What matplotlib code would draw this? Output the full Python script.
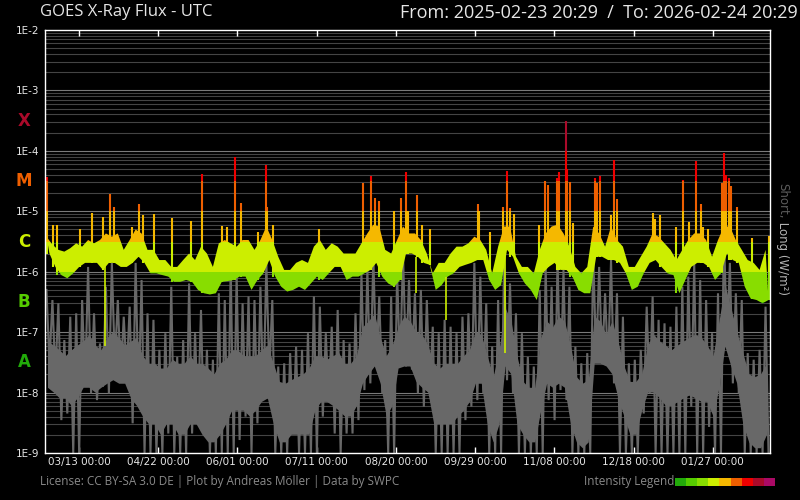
import matplotlib
matplotlib.use("Agg")
import matplotlib.pyplot as plt
import matplotlib.dates as mdates
import matplotlib.transforms as mtransforms
from matplotlib.patches import Rectangle
from matplotlib.ticker import NullLocator
import numpy as np
import pandas as pd

start = pd.Timestamp("2025-02-23 20:29")
end = pd.Timestamp("2026-02-24 20:29")

# long channel (1-8 A), envelope per 3-day bin, W/m2
long_hi = [
    3.8e-6, 2.8e-6, 2.3e-6, 2.15e-6, 2.45e-6, 2.95e-6, 2.6e-6, 3.35e-6, 2.95e-6, 3.35e-6,
    4.3e-6, 3.8e-6, 4.3e-6, 2.3e-6, 3.35e-6, 5.0e-6, 4.3e-6, 2.3e-6, 2.3e-6, 1.56e-6,
    1.56e-6, 1.2e-6, 1.2e-6, 1.56e-6, 2.0e-6, 1.56e-6, 2.6e-6, 2.0e-6, 1.2e-6, 2.95e-6,
    3.35e-6, 2.95e-6, 2.6e-6, 3.35e-6, 3.35e-6, 2.3e-6, 3.35e-6, 5.6e-6, 3.35e-6, 1.77e-6,
    1.07e-6, 1.07e-6, 1.4e-6, 1.56e-6, 1.4e-6, 2.6e-6, 3.35e-6, 2.3e-6, 2.95e-6, 2.6e-6,
    2.0e-6, 2.0e-6, 2.0e-6, 2.95e-6, 4.3e-6, 6.0e-6, 5.6e-6, 2.3e-6, 2.0e-6, 3.35e-6,
    5.6e-6, 4.3e-6, 4.3e-6, 3.35e-6, 2.0e-6, 9.4e-7, 1.4e-6, 1.4e-6, 2.0e-6, 2.6e-6,
    2.6e-6, 2.95e-6, 3.8e-6, 3.35e-6, 2.3e-6, 9.4e-7, 2.6e-6, 5.6e-6, 5.6e-6, 1.77e-6,
    1.2e-6, 1.2e-6, 9.4e-7, 2.3e-6, 4.3e-6, 5.6e-6, 6.0e-6, 4.3e-6, 2.6e-6, 1.2e-6,
    9.4e-7, 1.2e-6, 5.6e-6, 4.3e-6, 2.6e-6, 5.6e-6, 3.35e-6, 2.6e-6, 1.2e-6, 1.2e-6,
    1.77e-6, 2.6e-6, 4.3e-6, 3.8e-6, 2.95e-6, 2.3e-6, 1.56e-6, 2.3e-6, 3.35e-6, 4.3e-6,
    4.3e-6, 3.35e-6, 1.77e-6, 3.35e-6, 5.6e-6, 5.6e-6, 3.35e-6, 2.3e-6, 1.56e-6, 1.4e-6,
    1.07e-6, 2.3e-6]
long_lo = [
    2.0e-6, 1.2e-6, 8.8e-7, 7.8e-7, 9.4e-7, 1.2e-6, 1.4e-6, 1.4e-6, 1.4e-6, 1.07e-6,
    1.4e-6, 1.4e-6, 1.2e-6, 1.2e-6, 1.4e-6, 1.77e-6, 1.4e-6, 9.4e-7, 9.4e-7, 8.8e-7,
    8.3e-7, 6.8e-7, 6.8e-7, 7.3e-7, 6.8e-7, 5.0e-7, 4.4e-7, 4.2e-7, 4.4e-7, 6.8e-7,
    7.0e-7, 7.3e-7, 8.3e-7, 8.3e-7, 5.0e-7, 7.3e-7, 9.4e-7, 1.56e-6, 8.3e-7, 5.65e-7,
    4.7e-7, 5.0e-7, 5.65e-7, 5.0e-7, 6.4e-7, 8.3e-7, 7.3e-7, 9.4e-7, 1.2e-6, 1.2e-6,
    7.3e-7, 8.3e-7, 8.3e-7, 9.4e-7, 1.07e-6, 1.4e-6, 8.3e-7, 6.4e-7, 5.65e-7, 7.3e-7,
    2.0e-6, 2.0e-6, 1.77e-6, 1.4e-6, 1.3e-6, 5.0e-7, 6.0e-7, 8.3e-7, 9.4e-7, 1.2e-6,
    1.3e-6, 1.4e-6, 1.56e-6, 1.56e-6, 7.3e-7, 5.0e-7, 6.0e-7, 2.3e-6, 1.77e-6, 9.4e-7,
    6.4e-7, 5.0e-7, 3.4e-7, 9.4e-7, 1.2e-6, 1.4e-6, 1.07e-6, 1.07e-6, 8.3e-7, 5.0e-7,
    4.4e-7, 4.4e-7, 1.77e-6, 1.77e-6, 1.56e-6, 1.56e-6, 1.4e-6, 9.4e-7, 5.0e-7, 5.65e-7,
    9.4e-7, 1.4e-6, 1.56e-6, 1.2e-6, 9.4e-7, 8.8e-7, 4.4e-7, 7.3e-7, 1.2e-6, 1.4e-6,
    1.4e-6, 1.2e-6, 7.3e-7, 9.4e-7, 2.0e-6, 1.56e-6, 1.4e-6, 5.65e-7, 3.6e-7, 3.4e-7,
    3.0e-7, 3.4e-7]

# short channel (0.5-4 A): spike extremes per 3-day bin
short_hi = [
    5.0e-7, 3.4e-7, 3.0e-7, 7.4e-8, 1.8e-7, 2.05e-7, 3.4e-7, 1.2e-6, 2.05e-7, 6.5e-8,
    5.65e-7, 1.4e-6, 3.4e-7, 1.8e-7, 2.64e-7, 1.4e-6, 7.3e-7, 2.05e-7, 1.6e-7, 5.1e-8,
    9.6e-8, 5.65e-7, 3.9e-8, 7.4e-8, 6.4e-7, 9.6e-8, 2.33e-7, 5.1e-8, 3.5e-8, 4.4e-7,
    3.4e-7, 1.2e-6, 9.4e-7, 3.0e-7, 3.9e-7, 3.4e-7, 5.65e-7, 1.4e-6, 3.4e-7, 2.7e-8,
    3.05e-8, 4.5e-8, 5.75e-8, 5.1e-8, 9.6e-8, 3.9e-7, 2.64e-7, 9.6e-8, 1.23e-7, 2.33e-7,
    7.4e-8, 6.5e-8, 2.05e-7, 9.4e-7, 1.07e-6, 1.77e-6, 3.9e-7, 7.4e-8, 3.9e-7, 9.4e-7,
    2.0e-6, 7.3e-7, 4.4e-7, 5.0e-7, 3.4e-7, 1.23e-7, 9.6e-8, 1.6e-7, 1.23e-7, 9.6e-8,
    1.8e-7, 2.05e-7, 1.4e-6, 8.3e-7, 3.0e-7, 5.75e-8, 3.4e-7, 1.56e-6, 6.4e-7, 2.05e-7,
    9.6e-8, 3.9e-8, 2.7e-8, 5.0e-7, 1.2e-6, 5.65e-7, 1.56e-6, 1.07e-6, 5.65e-7, 5.75e-8,
    3.05e-8, 4.5e-8, 2.0e-6, 1.2e-6, 4.4e-7, 1.56e-6, 4.4e-7, 1.8e-7, 3.05e-8, 3.5e-8,
    5.1e-8, 2.64e-7, 3.9e-7, 1.6e-7, 1.4e-7, 1.23e-7, 2.64e-7, 5.65e-7, 8.3e-7, 1.4e-6,
    7.3e-7, 3.4e-7, 9.6e-8, 4.4e-7, 4.9e-6, 1.4e-6, 4.4e-7, 3.4e-7, 4.5e-8, 3.5e-8,
    5.1e-8, 2.64e-7]
short_lo = [
    3.05e-8, 1.83e-8, 3.5e-9, 4.5e-9, 1e-9, 1e-9, 1.25e-8, 9.7e-9, 7.5e-9, 1.25e-8,
    9.7e-9, 3.05e-8, 1.83e-8, 2.1e-8, 3.1e-9, 7.5e-9, 1e-9, 1e-9, 1e-9, 1e-9,
    2.1e-9, 1e-9, 1e-9, 1e-9, 2.1e-9, 4.0e-9, 2.1e-9, 1e-9, 1e-9, 1e-9,
    1e-9, 1e-9, 1.64e-9, 4.0e-9, 1e-9, 3.1e-9, 7.5e-9, 2.1e-8, 1e-9, 1e-9,
    1e-9, 2.1e-9, 1e-9, 1e-9, 1e-9, 1e-9, 4.0e-9, 7.5e-9, 2.1e-9, 1e-9,
    2.1e-9, 2.1e-9, 3.5e-9, 1.1e-8, 1.42e-8, 2.7e-8, 9.7e-9, 1e-9, 1e-9, 2.7e-8,
    2.7e-8, 2.4e-8, 9.7e-9, 5.85e-9, 9.7e-9, 1e-9, 1e-9, 1e-9, 1e-9, 1e-9,
    3.5e-9, 5.85e-9, 7.5e-9, 9.7e-9, 1e-9, 1e-9, 1e-9, 1.6e-8, 9.7e-9, 1e-9,
    1e-9, 1e-9, 1e-9, 1e-9, 7.5e-9, 3.5e-9, 1.1e-8, 7.5e-9, 1e-9, 1e-9,
    1e-9, 1e-9, 3.5e-8, 3.05e-8, 2.7e-8, 1.42e-8, 1e-9, 1e-9, 1e-9, 1e-9,
    4.5e-9, 9.7e-9, 1e-9, 1e-9, 1e-9, 1e-9, 1e-9, 1e-9, 5.85e-9, 1e-9,
    1e-9, 2.7e-9, 1e-9, 1e-9, 5.75e-8, 1.42e-8, 9.7e-9, 1e-9, 1e-9, 1e-9,
    1e-9, 1e-9]

# short channel: solid body of the trace (upper / lower edge) per 3-day bin
short_body_top = [
    7e-8, 6e-8, 5e-8, 4e-8, 5e-8, 6e-8, 7e-8, 9e-8, 6e-8, 5e-8,
    8e-8, 1.0e-7, 8e-8, 6e-8, 7e-8, 8e-8, 4e-8, 3e-8, 3e-8, 2.5e-8,
    2.5e-8, 3.5e-8, 3e-8, 3e-8, 4e-8, 3e-8, 3e-8, 2.5e-8, 2e-8, 3e-8,
    3.5e-8, 5e-8, 5e-8, 4e-8, 4e-8, 4e-8, 5e-8, 6e-8, 3e-8, 1.5e-8,
    1.4e-8, 1.6e-8, 1.8e-8, 2e-8, 2.5e-8, 4e-8, 4e-8, 3.5e-8, 4e-8, 4.5e-8,
    3e-8, 3e-8, 4e-8, 1.2e-7, 1.5e-7, 2e-7, 8e-8, 4e-8, 6e-8, 1.2e-7,
    1.8e-7, 1.5e-7, 1e-7, 9e-8, 6e-8, 3e-8, 2.5e-8, 3e-8, 3e-8, 3e-8,
    4e-8, 5e-8, 1.0e-7, 9e-8, 4e-8, 1.8e-8, 5e-8, 2.5e-7, 1.5e-7, 4e-8,
    1.5e-8, 1.2e-8, 1.2e-8, 8e-8, 1.5e-7, 1.2e-7, 1.8e-7, 1.5e-7, 6e-8, 1.8e-8,
    1.4e-8, 1.6e-8, 1.8e-7, 1.5e-7, 9e-8, 1.5e-7, 7e-8, 2.7e-8, 1.5e-8, 1.5e-8,
    2e-8, 6e-8, 9e-8, 7e-8, 6e-8, 5e-8, 6e-8, 7e-8, 8e-8, 9e-8,
    8e-8, 6e-8, 4e-8, 1.5e-7, 6e-7, 2.5e-7, 1e-7, 4.5e-8, 2e-8, 1.8e-8,
    2e-8, 3e-8]
short_body_bot = [
    1.2e-8, 1.0e-8, 8e-9, 8e-9, 6e-9, 8e-9, 1.2e-8, 1.2e-8, 1.0e-8, 1.2e-8,
    1.4e-8, 1.6e-8, 1.4e-8, 1.4e-8, 8e-9, 6e-9, 4e-9, 3e-9, 3e-9, 2e-9,
    3e-9, 3e-9, 2e-9, 2e-9, 3e-9, 3e-9, 2e-9, 1.5e-9, 1.5e-9, 2e-9,
    3e-9, 5e-9, 5e-9, 5e-9, 4e-9, 5e-9, 7e-9, 8e-9, 3e-9, 1.5e-9,
    1.5e-9, 2e-9, 2e-9, 2e-9, 2e-9, 5e-9, 7e-9, 7e-9, 6e-9, 5e-9,
    4e-9, 4e-9, 6e-9, 1.4e-8, 2e-8, 2.7e-8, 1.4e-8, 4e-9, 6e-9, 2.5e-8,
    2.7e-8, 2.7e-8, 1.5e-8, 1.2e-8, 1e-8, 3e-9, 3e-9, 3e-9, 3e-9, 4e-9,
    5e-9, 7e-9, 1.4e-8, 1.4e-8, 3e-9, 1.5e-9, 3e-9, 2.7e-8, 2e-8, 3e-9,
    2e-9, 1.5e-9, 1.5e-9, 5e-9, 1.4e-8, 1.2e-8, 1.4e-8, 1.2e-8, 3e-9, 1.5e-9,
    1.2e-9, 1.5e-9, 3e-8, 3e-8, 2.7e-8, 2e-8, 8e-9, 4e-9, 2e-9, 2e-9,
    5e-9, 1e-8, 1e-8, 8e-9, 6e-9, 6e-9, 7e-9, 8e-9, 9e-9, 8e-9,
    7e-9, 7e-9, 4e-9, 1.2e-8, 5.75e-8, 2.7e-8, 1.4e-8, 3e-9, 1.5e-9, 1.2e-9,
    1.2e-9, 2e-9]

# flares: days after start, peak flux
flare_day = [
    0.9, 3.9, 6.2, 17.7, 23.6, 29.4, 32.8, 35.0, 43.8, 47.6,
    49.3, 55.2, 64.0, 73.5, 79.1, 89.2, 91.7, 95.8, 99.1, 107.4,
    111.4, 112.2, 115.2, 138.3, 160.4, 164.4, 166.7, 168.8, 176.0, 179.6,
    182.1, 183.2, 187.6, 190.2, 194.3, 218.4, 219.2, 224.6, 231.0, 233.2,
    234.7, 236.7, 249.5, 252.4, 253.9, 258.3, 259.5, 262.8, 263.4, 265.0,
    266.7, 277.6, 278.8, 280.2, 285.6, 287.2, 288.6, 306.8, 307.9, 310.4,
    318.5, 321.9, 324.9, 328.6, 331.0, 332.3, 334.8, 341.9, 342.8, 343.8,
    345.1, 346.1, 349.2, 356.7, 365.5]
flare_peak = [
    3.7e-5, 5.9e-6, 5.9e-6, 5.0e-6, 9.5e-6, 8.1e-6, 1.9e-5, 1.2e-5, 5.6e-6, 1.3e-5,
    8.7e-6, 8.9e-6, 7.7e-6, 6.9e-6, 4.1e-5, 5.7e-6, 5.6e-6, 7.8e-5, 1.35e-5, 4.6e-6,
    5.8e-5, 1.2e-5, 5.9e-6, 5.0e-6, 2.9e-5, 3.8e-5, 1.64e-5, 1.5e-5, 1.0e-5, 1.64e-5,
    4.4e-5, 1.0e-5, 1.86e-5, 5.9e-6, 5.0e-6, 1.3e-5, 1.0e-5, 4.6e-6, 1.2e-5, 4.7e-5,
    1.12e-5, 9.0e-6, 5.9e-6, 3.2e-5, 2.7e-5, 3.5e-5, 4.4e-5, 3.1e-4, 5.1e-5, 3.0e-5,
    6.5e-6, 3.5e-5, 2.9e-5, 3.8e-5, 8.7e-6, 7.1e-5, 1.6e-5, 9.2e-6, 7.4e-6, 8.7e-6,
    5.6e-6, 3.3e-5, 6.7e-6, 6.8e-5, 1.3e-5, 5.6e-6, 5.0e-6, 2.9e-5, 9.3e-5, 4.0e-5,
    3.5e-5, 2.6e-5, 1.2e-5, 3.6e-6, 3.9e-6]

# short data dropouts in the long channel
dropout_day = [30.3, 187.3, 202.3, 232.2]
dropout_val = [5.8e-8, 4.4e-7, 1.6e-7, 4.5e-8]

class_names = ["X", "M", "C", "B", "A"]
class_colors = ["#aa0a2a", "#ee5f00", "#ccee00", "#55cc00", "#22aa0a"]

band_edges = [1e-10, 1e-7, 10 ** -6.5, 1e-6, 10 ** -5.5, 1e-5, 10 ** -4.5, 1e-4, 10 ** -3.5, 1e-1]
band_colors = ["#22aa0a", "#55cc00", "#88dd00", "#ccee00", "#f5b800",
               "#ee5f00", "#ee0000", "#aa0a2a", "#aa0a66"]

fig = plt.figure(figsize=(8, 5), dpi=100, facecolor="black")
ax = fig.add_axes([45 / 800, 47 / 500, 725 / 800, 423 / 500])
ax.set_facecolor("black")
ax.set_yscale("log")
ax.set_ylim(1e-9, 1e-2)
ax.set_xlim(start, end)

# grid lines
for e in range(-9, -2):
    for m in range(1, 10):
        v = m * 10.0 ** e
        if m == 1:
            ax.axhline(v, color="#7a7a7a", lw=0.8, zorder=1)
        else:
            ax.axhline(v, color="#444444", lw=0.8, zorder=1)

bins = [start + pd.Timedelta(days=3 * i) for i in range(len(long_hi))]
x_hi = mdates.date2num([b + pd.Timedelta(hours=18) for b in bins])
x_lo = mdates.date2num([b + pd.Timedelta(hours=54) for b in bins])
x_mid = mdates.date2num([b + pd.Timedelta(hours=36) for b in bins])

zx = []
zs = []
for i in range(len(bins)):
    zx += [x_hi[i], x_lo[i]]
    zs += [short_hi[i], short_lo[i]]

# short channel: solid body plus the spikes
ax.fill(list(x_mid) + list(x_mid[::-1]), list(short_body_top) + list(short_body_bot[::-1]),
        color="#686868", lw=0, zorder=2)
ax.plot(zx, zs, color="#686868", lw=1.5, solid_joinstyle="miter", zorder=2)

x0 = mdates.date2num(start)
x1 = mdates.date2num(end)

fl_x = [start + pd.Timedelta(days=d) for d in flare_day]
fl_base = [long_lo[int(d // 3)] for d in flare_day]

poly_x = list(x_hi) + list(x_lo[::-1])
long_poly_y = list(long_hi) + list(long_lo[::-1])
for lo, hi, c in zip(band_edges[:-1], band_edges[1:], band_colors):
    pg = ax.fill(poly_x, long_poly_y, color=c, lw=0, zorder=3)[0]
    pg.set_clip_path(Rectangle((x0, lo), x1 - x0, hi - lo, transform=ax.transData))
    lc = ax.vlines(fl_x, fl_base, flare_peak, color=c, lw=1.5, zorder=4)
    lc.set_clip_path(Rectangle((x0, lo), x1 - x0, hi - lo, transform=ax.transData))

dr_x = [start + pd.Timedelta(days=d) for d in dropout_day]
dr_base = [long_lo[int(d // 3)] for d in dropout_day]
ax.vlines(dr_x, dropout_val, dr_base, color="#ccee00", lw=1.2, zorder=3)

# axes styling
for s in ax.spines.values():
    s.set_color("white")
    s.set_linewidth(1)
    s.set_zorder(5)
ax.set_yticks([10.0 ** k for k in range(-9, -1)])
ax.set_yticklabels(["1E%d" % k for k in range(-9, -1)])
ax.yaxis.set_minor_locator(NullLocator())
ax.tick_params(axis="y", length=0, pad=4, labelsize=7.5, labelcolor="#e6e6e6")

xt = pd.date_range("2025-03-13", periods=9, freq="40D")
ax.set_xticks(xt)
ax.set_xticklabels([t.strftime("%m/%d %H:%M") for t in xt])
ax.xaxis.set_minor_locator(NullLocator())
ax.tick_params(axis="x", direction="in", top=True, length=4, width=1, color="white",
               labelsize=7.5, labelcolor="#e6e6e6", pad=3)

# class letters
tr = mtransforms.blended_transform_factory(fig.transFigure, ax.transData)
for k, (name, col) in enumerate(zip(class_names, class_colors)):
    ax.text(24 / 800, 10 ** (-3.5 - k), name, transform=tr, color=col, fontsize=12,
            fontweight="bold", ha="center", va="center")

# header
fig.text(40 / 800, 1 - 4 / 500, "GOES X-Ray Flux - UTC", color="#e6e6e6", fontsize=12,
         ha="left", va="top", family="Open Sans")
fig.text(798 / 800, 1 - 4 / 500, "From: 2025-02-23 20:29  /  To: 2026-02-24 20:29",
         color="#e6e6e6", fontsize=13, ha="right", va="top", family="Open Sans")

# right axis label
t1 = fig.text(783 / 800, 1 - 183 / 500, "Short,", rotation=-90, rotation_mode="anchor",
              ha="left", va="center", color="#5c5c5c", fontsize=8.5)
ax.annotate(" Long (W/m²)", xy=(0.5, 0), xycoords=t1, rotation=-90, rotation_mode="anchor",
            ha="left", va="center", color="#b4b4b4", fontsize=8.5)

# footer
fig.text(40 / 800, 1 - 482 / 500, "License: CC BY-SA 3.0 DE | Plot by Andreas Möller | Data by SWPC",
         color="#8a8a8a", fontsize=8.5, ha="left", va="center", family="Open Sans")
fig.text(674 / 800, 1 - 482 / 500, "Intensity Legend", color="#8a8a8a", fontsize=8.5,
         ha="right", va="center", family="Open Sans")
sw = 100 / 9
for i, c in enumerate(band_colors):
    fig.add_artist(Rectangle(((675 + i * sw) / 800, 1 - 486 / 500), sw / 800, 8 / 500,
                             transform=fig.transFigure, color=c, lw=0))

fig.savefig("out.png", dpi=100, facecolor="black")
